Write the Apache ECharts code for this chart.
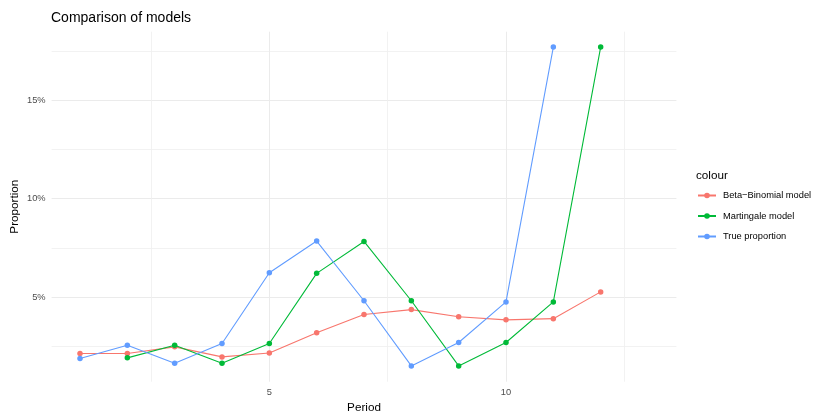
<!DOCTYPE html>
<html>
<head>
<meta charset="utf-8">
<script src="https://cdn.jsdelivr.net/npm/echarts@6/dist/echarts.min.js"></script>
<style>
html,body{margin:0;padding:0;background:#fff;}
#chart{width:820px;height:413px;}
</style>
</head>
<body>
<div id="chart"></div>
<script>
// ---- data (proportions in %) ----
var periods = [1, 2, 3, 4, 5, 6, 7, 8, 9, 10, 11, 12];
var betaBinomial = [2.13, 2.13, 2.47, 1.96, 2.16, 3.18, 4.11, 4.36, 4.00, 3.84, 3.90, 5.26];
var martingale = [null, 1.91, 2.55, 1.64, 2.64, 6.20, 7.82, 4.81, 1.50, 2.69, 4.75, 17.69];
var trueProportion = [1.88, 2.55, 1.64, 2.64, 6.23, 7.84, 4.81, 1.50, 2.69, 4.75, 17.69, null];
var seriesNames = ['Beta\u2212Binomial model', 'Martingale model', 'True proportion'];
var seriesColors = ['#F8766D', '#00BA38', '#619CFF'];
var xTickValues = [5, 10];
var yTickValues = [5, 10, 15];

function pairs(vals) {
  var out = [];
  for (var i = 0; i < periods.length; i++) {
    if (vals[i] != null) out.push([periods[i], vals[i]]);
  }
  return out;
}

var FONT = '"Liberation Sans", Arial, sans-serif';
var chart = echarts.init(document.getElementById('chart'), null, {renderer: 'canvas'});

var allSeries = [betaBinomial, martingale, trueProportion].map(function (vals, k) {
  return {
    name: seriesNames[k],
    type: 'line',
    data: pairs(vals),
    symbol: 'circle',
    symbolSize: 5.5,
    showSymbol: true,
    lineStyle: {width: 1.1, color: seriesColors[k]},
    itemStyle: {color: seriesColors[k]},
    emphasis: {disabled: true},
    animation: false,
    z: 2 + k
  };
});

chart.setOption({
  animation: false,
  backgroundColor: '#ffffff',
  textStyle: {fontFamily: FONT},
  title: {
    text: 'Comparison of models',
    left: 51,
    top: 11,
    padding: 0,
    textStyle: {fontFamily: FONT, fontSize: 14, fontWeight: 'normal', color: '#000'}
  },
  grid: {left: 51.6, right: 143.6, top: 31.7, bottom: 31.3, containLabel: false, outerBoundsMode: 'none'},
  xAxis: {
    type: 'value',
    min: 0.4,
    max: 13.6,
    minInterval: 5,
    maxInterval: 5,
    name: 'Period',
    nameLocation: 'middle',
    nameGap: 15,
    nameTextStyle: {fontFamily: FONT, fontSize: 11.7, color: '#000'},
    axisLine: {show: false},
    axisTick: {show: false},
    axisLabel: {
      show: true,
      margin: 6,
      fontFamily: FONT,
      fontSize: 9.3,
      color: '#4d4d4d',
      showMinLabel: false,
      showMaxLabel: false,
      formatter: function (v) { return xTickValues.indexOf(v) >= 0 ? String(v) : ''; }
    },
    splitLine: {show: true, showMinLine: false, showMaxLine: false, lineStyle: {color: '#ebebeb', width: 1}},
    minorTick: {show: false, splitNumber: 2},
    minorSplitLine: {show: true, lineStyle: {color: '#efefef', width: 0.8}}
  },
  yAxis: {
    type: 'value',
    min: 0.7,
    max: 18.47,
    minInterval: 5,
    maxInterval: 5,
    axisLine: {show: false},
    axisTick: {show: false},
    axisLabel: {
      show: true,
      margin: 6,
      fontFamily: FONT,
      fontSize: 9.3,
      color: '#4d4d4d',
      showMinLabel: false,
      showMaxLabel: false,
      formatter: function (v) { return yTickValues.indexOf(v) >= 0 ? v + '%' : ''; }
    },
    splitLine: {show: true, showMinLine: false, showMaxLine: false, lineStyle: {color: '#ebebeb', width: 1}},
    minorTick: {show: false, splitNumber: 2},
    minorSplitLine: {show: true, lineStyle: {color: '#efefef', width: 0.8}}
  },
  legend: {
    orient: 'vertical',
    left: 697,
    top: 189.5,
    padding: 0,
    itemWidth: 18,
    itemHeight: 7,
    itemGap: 8.5,
    selectedMode: false,
    data: seriesNames,
    textStyle: {fontFamily: FONT, fontSize: 9.3, color: '#000', lineHeight: 12, padding: [0, 0, 0, 2]}
  },
  graphic: [{
    type: 'text',
    left: 696,
    top: 170,
    style: {text: 'colour', fontFamily: FONT, fontSize: 11.7, fill: '#000'}
  }, {
    type: 'text',
    x: 14.7,
    y: 206.7,
    rotation: Math.PI / 2,
    style: {text: 'Proportion', fontFamily: FONT, fontSize: 11.7, fill: '#000', align: 'center', verticalAlign: 'middle'}
  }],
  series: allSeries
});
</script>
</body>
</html>
